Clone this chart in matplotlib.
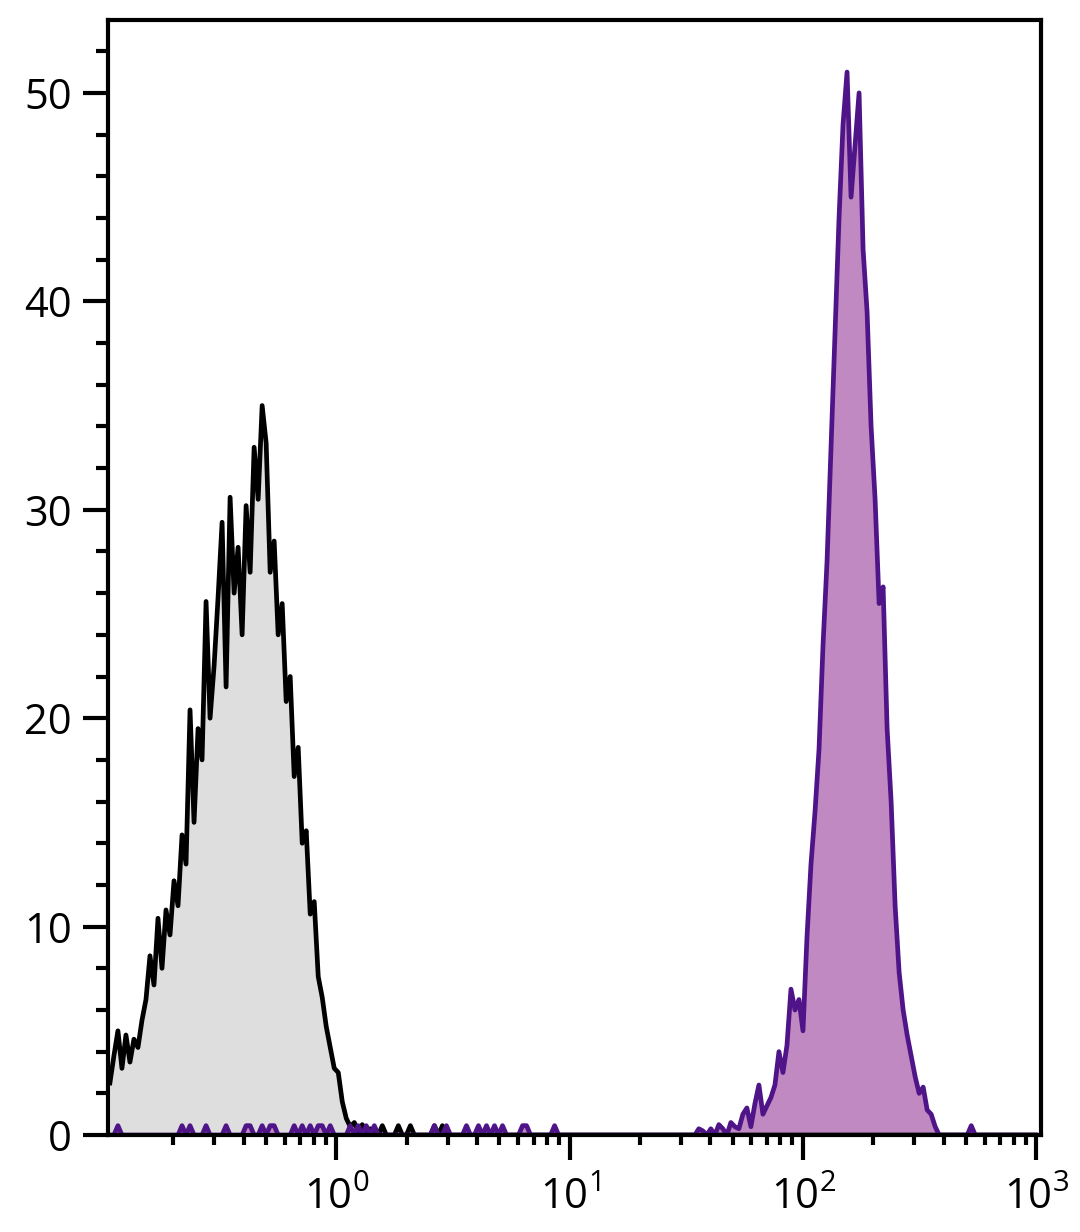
import numpy as np
import matplotlib
matplotlib.use("Agg")
import matplotlib.pyplot as plt
from matplotlib.ticker import LogLocator, MultipleLocator, NullFormatter

plt.rcParams['font.family'] = ['Open Sans', 'DejaVu Sans']
plt.rcParams['mathtext.fontset'] = 'custom'
plt.rcParams['mathtext.rm'] = 'Open Sans'
plt.rcParams['mathtext.it'] = 'Open Sans:italic'

# histogram channels (log spaced)
chan_lo = 0.107        # first channel
chan_step = 0.01717    # decades per channel
n_chan = 232

# control (isotype) counts, from channel 0
ctrl_start = 0
ctrl_counts = [2.5, 3.8, 5.0, 3.2, 4.8, 3.5, 4.6, 4.2, 5.5, 6.5,
               8.6, 7.2, 10.4, 8.0, 10.8, 9.6, 12.2, 11.0, 14.4, 13.0,
               20.4, 15.0, 19.5, 18.0, 25.6, 20.0, 22.5, 25.8, 29.4, 21.5,
               30.6, 26.0, 28.2, 24.0, 30.2, 27.0, 33.0, 30.5, 35.0, 33.2,
               27.0, 28.5, 24.0, 25.5, 20.8, 22.0, 17.2, 18.6, 14.0, 14.6,
               10.6, 11.2, 7.6, 6.6, 5.2, 4.2, 3.2, 3.0, 1.6, 0.8,
               0.4, 0.6, 0.2, 0.5, 0.0, 0.3, 0.0]
ctrl_events = [1.55, 1.85, 2.08, 2.58, 2.82]

# stained sample counts, from channel 147
samp_start = 147
samp_counts = [0.3, 0.2, 0.0, 0.3, 0.0, 0.5, 0.3, 0.0, 0.6, 0.4,
               0.3, 1.0, 1.3, 0.4, 1.5, 2.4, 1.0, 1.4, 1.8, 2.4,
               4.0, 3.0, 4.3, 7.0, 6.0, 6.5, 5.0, 9.5, 13.0, 15.5,
               18.5, 23.5, 27.5, 33.0, 38.5, 44.0, 48.5, 51.0, 45.0, 47.5,
               50.0, 42.5, 39.5, 34.0, 30.5, 25.5, 26.3, 19.5, 16.0, 11.0,
               7.8, 6.0, 4.8, 3.8, 2.8, 2.0, 2.3, 1.2, 1.0, 0.4, 0.0]
samp_events = [0.118, 0.220, 0.236, 0.274, 0.340, 0.415, 0.432, 0.481, 0.511,
               0.542, 0.654, 0.700, 0.773, 0.821, 0.871, 0.924, 1.13, 1.22,
               1.33, 1.43, 2.63, 2.94, 3.54, 4.07, 4.44, 4.81, 5.06, 6.29,
               6.60, 8.45, 521.0]
event_h = 0.45

x = chan_lo * 10 ** (chan_step * np.arange(n_chan))


def build(start, counts, events):
    y = np.zeros(n_chan)
    y[start:start + len(counts)] = counts
    for e in events:
        i = int(round((np.log10(e) - np.log10(chan_lo)) / chan_step))
        y[i] = max(y[i], event_h)
    return y


y_ctrl = build(ctrl_start, ctrl_counts, ctrl_events)
y_samp = build(samp_start, samp_counts, samp_events)

fig = plt.figure(figsize=(10.8, 12.32), dpi=100)
ax = fig.add_axes([0.1, 0.0787, 0.8639, 0.9051])

ax.fill_between(x, 0, y_ctrl, color='#dedede', lw=0, zorder=1)
ax.plot(x, y_ctrl, color='black', lw=3.4, zorder=2)
ax.fill_between(x, 0, y_samp, color='#c089c2', lw=0, zorder=1.5)
ax.plot(x, y_samp, color='#4f1488', lw=3.4, zorder=2.1)

ax.set_xscale('log')
ax.set_xlim(0.105, 1047)
ax.set_ylim(0, 53.5)

ax.xaxis.set_major_locator(LogLocator(base=10))
ax.xaxis.set_minor_locator(LogLocator(base=10, subs=np.arange(2, 10)))
ax.xaxis.set_minor_formatter(NullFormatter())
ax.yaxis.set_major_locator(MultipleLocator(10))
ax.yaxis.set_minor_locator(MultipleLocator(2))

for s in ax.spines.values():
    s.set_linewidth(3.0)
ax.tick_params(which='both', direction='out', width=3.0, top=False, right=False,
               labelsize=30)
ax.tick_params(axis='y', which='major', length=18, pad=8)
ax.tick_params(axis='y', which='minor', length=8.5)
ax.tick_params(axis='x', which='major', length=18, pad=12)
ax.tick_params(axis='x', which='minor', length=7)

plt.savefig('out.png', dpi=100)
